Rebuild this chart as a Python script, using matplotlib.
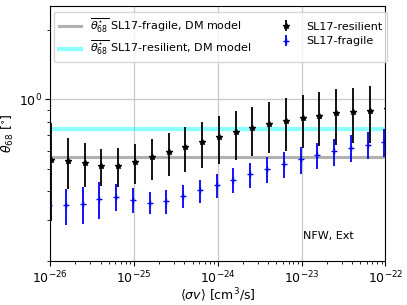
import matplotlib
matplotlib.use("Agg")
import matplotlib.pyplot as plt
import numpy as np

# <sigma v> grid, 0.2 dex steps
log_sigmav = [-26.0, -25.8, -25.6, -25.4, -25.2, -25.0, -24.8, -24.6, -24.4, -24.2, -24.0,
              -23.8, -23.6, -23.4, -23.2, -23.0, -22.8, -22.6, -22.4, -22.2, -22.0]

# SL17-resilient
res_mid = [0.546, 0.544, 0.531, 0.514, 0.516, 0.535, 0.561, 0.591, 0.620, 0.653, 0.687,
           0.722, 0.749, 0.779, 0.803, 0.830, 0.849, 0.870, 0.884, 0.890, 0.905]
res_hi = [0.792, 0.678, 0.645, 0.609, 0.614, 0.641, 0.675, 0.717, 0.759, 0.800, 0.844,
          0.887, 0.929, 0.971, 1.010, 1.047, 1.076, 1.105, 1.119, 1.138, 1.153]
res_lo = [0.298, 0.409, 0.418, 0.423, 0.418, 0.429, 0.447, 0.466, 0.486, 0.506, 0.528,
          0.546, 0.567, 0.584, 0.597, 0.614, 0.628, 0.634, 0.645, 0.649, 0.660]

# SL17-fragile
fra_mid = [0.349, 0.348, 0.352, 0.371, 0.380, 0.368, 0.358, 0.364, 0.383, 0.404, 0.426,
           0.450, 0.474, 0.499, 0.523, 0.551, 0.572, 0.597, 0.617, 0.636, 0.656]
fra_hi = [0.413, 0.410, 0.417, 0.439, 0.431, 0.412, 0.397, 0.405, 0.426, 0.450, 0.475,
          0.504, 0.532, 0.563, 0.591, 0.622, 0.649, 0.675, 0.699, 0.724, 0.742]
fra_lo = [0.286, 0.285, 0.288, 0.305, 0.329, 0.322, 0.320, 0.321, 0.338, 0.355, 0.374,
          0.394, 0.415, 0.435, 0.456, 0.476, 0.498, 0.516, 0.535, 0.550, 0.564]

# mean theta_68 from DM model
mean_fragile = 0.563
mean_resilient = 0.741

x = 10.0 ** np.array(log_sigmav)
res_mid, res_hi, res_lo = map(np.array, (res_mid, res_hi, res_lo))
fra_mid, fra_hi, fra_lo = map(np.array, (fra_mid, fra_hi, fra_lo))

fs = 8
fs_ax = 9

fig = plt.figure(figsize=(4.07, 3.05), dpi=100)
ax = fig.add_axes([0.123, 0.144, 0.824, 0.836])

h_gray = ax.axhline(mean_fragile, color="#a9a9a9", lw=2.2, alpha=0.9,
                    label=r"$\overline{\theta^{\star}_{68}}$ SL17-fragile, DM model")
h_cyan = ax.axhline(mean_resilient, color="cyan", lw=3, alpha=0.45,
                    label=r"$\overline{\theta^{\star}_{68}}$ SL17-resilient, DM model")

h_res = ax.errorbar(x * 1.03, res_mid, yerr=[res_mid - res_lo, res_hi - res_mid],
                    fmt="*", color="k", ms=3.8, elinewidth=1.3, label="SL17-resilient")
h_fra = ax.errorbar(x / 1.03, fra_mid, yerr=[fra_mid - fra_lo, fra_hi - fra_mid],
                    fmt="+", color="b", ms=4.5, elinewidth=1.3, label="SL17-fragile")

ax.set_xscale("log")
ax.set_yscale("log")
ax.set_xlim(1e-26, 1e-22)
ax.set_ylim(0.2, 2.53)
ax.grid(True, which="major", color="#c8c8c8", lw=0.9)
ax.set_axisbelow(True)
ax.tick_params(labelsize=fs_ax, pad=2.5)
ax.tick_params(which="minor", length=2.5)

ax.set_xlabel(r"$\langle \sigma v \rangle$ [cm$^3$/s]", fontsize=fs_ax, labelpad=0)
ax.set_ylabel(r"$\theta_{68}$ [$^{\circ}$]", fontsize=fs_ax, labelpad=2)

ax.text(0.754, 0.098, "NFW, Ext", transform=ax.transAxes, fontsize=fs, va="center")

ax.legend(handles=[h_gray, h_cyan, h_res, h_fra], ncol=2, fontsize=fs,
          loc="upper left", bbox_to_anchor=(0.012, 0.976), columnspacing=2.2,
          handlelength=2.0, borderaxespad=0, labelspacing=0.42)

fig.savefig("out.png", dpi=100)
